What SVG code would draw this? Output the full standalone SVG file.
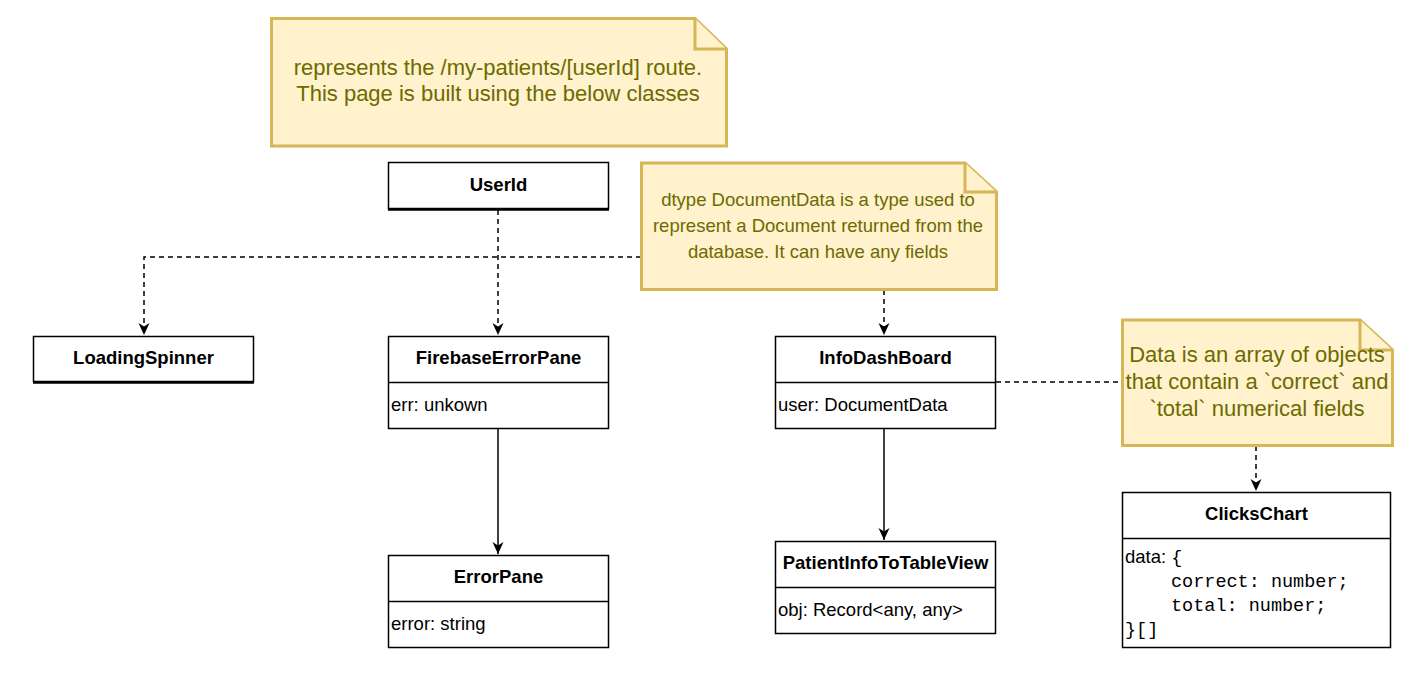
<svg xmlns="http://www.w3.org/2000/svg" width="1409" height="693" viewBox="0 0 1409 693">
<style>
.note{fill:#fff2cc;stroke:#d6b656;stroke-width:3;stroke-linejoin:miter}
.ntxt{font-family:"Liberation Sans",Arial,sans-serif;fill:#6b6b00;text-anchor:middle}
.box{fill:#ffffff;stroke:#000000;stroke-width:1.5}
.div{stroke:#000000;stroke-width:1.5}
.title{font-family:"Liberation Sans",Arial,sans-serif;font-size:18.5px;font-weight:bold;fill:#000;text-anchor:middle}
.field{font-family:"Liberation Sans",Arial,sans-serif;font-size:18.5px;fill:#000}
.mono{font-family:"Liberation Mono","Courier New",monospace;font-size:18.5px;fill:#000}
.dash{fill:none;stroke:#000;stroke-width:1.5;stroke-dasharray:5 4;marker-end:url(#arr)}
.solid{fill:none;stroke:#000;stroke-width:1.5;marker-end:url(#arr)}
</style>
<defs>
<marker id="arr" markerUnits="userSpaceOnUse" markerWidth="14" markerHeight="12" refX="12" refY="6" orient="auto">
<path d="M0,0.5 L12,6 L0,11.5 L3.5,6 Z" fill="#000"/>
</marker>
</defs>
<rect width="1409" height="693" fill="#ffffff"/>

<g id="connectors">
<path class="dash" d="M498,210 L498,335"/>
<path class="dash" d="M641,257 L144,257 L144,335"/>
<path class="dash" d="M884,290 L884,335"/>
<path class="solid" d="M884,429 L884,540"/>
<path class="solid" d="M498,429 L498,554"/>
<path class="dash" d="M996,382 L1122,382" style="marker-end:none"/>
<path class="dash" d="M1256,446 L1256,491"/>
</g>

<g id="note-route">
<path class="note" d="M271.5,18.5 L695,18.5 L726.5,49 L726.5,146 L271.5,146 Z"/>
<path class="note" d="M695,18.5 L695,49 L726.5,49" fill="none"/>
<text class="ntxt" font-size="22" x="498" y="75">represents the /my-patients/[userId] route.</text>
<text class="ntxt" font-size="22" x="498" y="101">This page is built using the below classes</text>
</g>

<g id="note-documentdata">
<path class="note" d="M641.5,163 L965,163 L996.5,192 L996.5,289.5 L641.5,289.5 Z"/>
<path class="note" d="M965,163 L965,192 L996.5,192" fill="none"/>
<text class="ntxt" font-size="18.5" x="818" y="206">dtype DocumentData is a type used to</text>
<text class="ntxt" font-size="18.5" x="818" y="232">represent a Document returned from the</text>
<text class="ntxt" font-size="18.5" x="818" y="258">database. It can have any fields</text>
</g>

<g id="note-data">
<path class="note" d="M1122.5,320 L1360,320 L1392.5,350 L1392.5,445.5 L1122.5,445.5 Z"/>
<path class="note" d="M1360,320 L1360,350 L1392.5,350" fill="none"/>
<text class="ntxt" font-size="22" x="1257" y="362">Data is an array of objects</text>
<text class="ntxt" font-size="22" x="1257" y="389">that contain a `correct` and</text>
<text class="ntxt" font-size="22" x="1257" y="416">`total` numerical fields</text>
</g>

<g id="UserId">
<rect class="box" x="388.5" y="162.5" width="220" height="46"/>
<line x1="388" y1="209.5" x2="609" y2="209.5" stroke="#000" stroke-width="2.5"/>
<text class="title" x="498.5" y="191">UserId</text>
</g>

<g id="LoadingSpinner">
<rect class="box" x="33.5" y="336.5" width="220" height="45"/>
<line x1="33" y1="382.5" x2="254" y2="382.5" stroke="#000" stroke-width="2.5"/>
<text class="title" x="143.5" y="364">LoadingSpinner</text>
</g>

<g id="FirebaseErrorPane">
<rect class="box" x="388.5" y="336.5" width="220" height="92"/>
<line class="div" x1="388.5" y1="382.5" x2="608.5" y2="382.5"/>
<text class="title" x="498.5" y="364">FirebaseErrorPane</text>
<text class="field" x="391" y="411">err: unkown</text>
</g>

<g id="ErrorPane">
<rect class="box" x="388.5" y="555.5" width="220" height="92"/>
<line class="div" x1="388.5" y1="601.5" x2="608.5" y2="601.5"/>
<text class="title" x="498.5" y="583">ErrorPane</text>
<text class="field" x="391" y="630">error: string</text>
</g>

<g id="InfoDashBoard">
<rect class="box" x="775.5" y="336.5" width="220" height="92"/>
<line class="div" x1="775.5" y1="382.5" x2="995.5" y2="382.5"/>
<text class="title" x="885.5" y="364">InfoDashBoard</text>
<text class="field" x="778" y="411">user: DocumentData</text>
</g>

<g id="PatientInfoToTableView">
<rect class="box" x="775.5" y="541.5" width="220" height="92"/>
<line class="div" x1="775.5" y1="587.5" x2="995.5" y2="587.5"/>
<text class="title" x="885.5" y="569">PatientInfoToTableView</text>
<text class="field" x="778" y="616">obj: Record&lt;any, any&gt;</text>
</g>

<g id="ClicksChart">
<rect class="box" x="1122.5" y="492.5" width="268" height="155"/>
<line class="div" x1="1122.5" y1="538.5" x2="1390.5" y2="538.5"/>
<text class="title" x="1256.5" y="520">ClicksChart</text>
<text class="field" x="1125" y="563">data: <tspan class="mono">{</tspan></text>
<text class="mono" x="1171" y="587">correct: number;</text>
<text class="mono" x="1171" y="611">total: number;</text>
<text class="mono" x="1125" y="635">}[]</text>
</g>
</svg>
